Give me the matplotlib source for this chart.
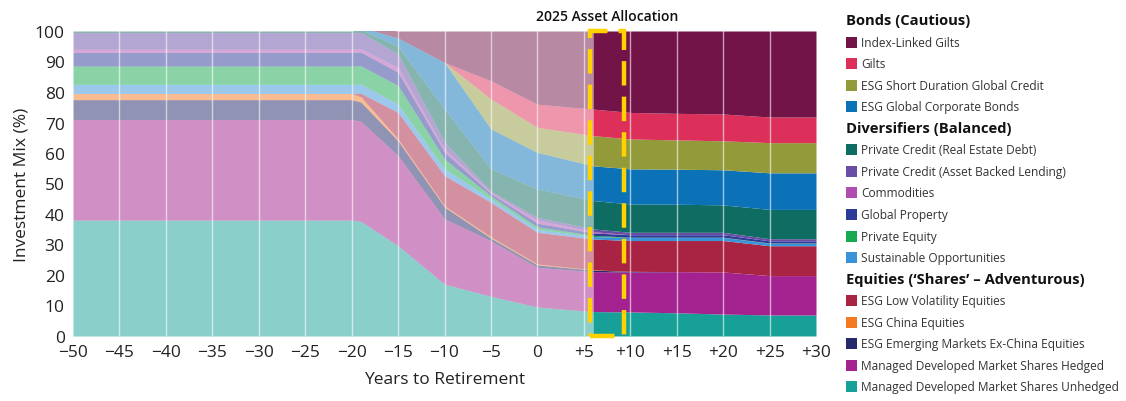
import matplotlib
matplotlib.use("Agg")
import matplotlib.pyplot as plt
from matplotlib.patches import Rectangle
import numpy as np

plt.rcParams['font.family'] = ['Open Sans', 'DejaVu Sans']

years = [-50, -20, -19, -15, -10, -5, 0, 6, 10, 15, 20, 25, 30]

unhedged     = [38, 38, 37.6, 29.6, 17.0, 13.0, 9.5, 8.0, 7.9, 7.6, 7.2, 6.9, 6.9]
hedged       = [33, 33, 32.8, 29.5, 21.4, 18.2, 13.0, 13.1, 13.1, 13.5, 13.8, 12.9, 12.9]
em_ex_china  = [6.5, 6.5, 6.3, 4.9, 3.9, 0.9, 0.8, 0.5, 0.2, 0, 0, 0, 0]
china        = [2, 2, 1.7, 0.6, 0.4, 0.4, 0.3, 0.1, 0, 0, 0, 0, 0]
low_vol      = [0, 0, 1.2, 8.7, 9.9, 11.3, 10.4, 10.1, 10.1, 10.2, 10.3, 9.8, 9.8]
sustainable  = [3, 3, 3.0, 2.7, 2.2, 1.2, 1.0, 0.8, 1.0, 1.0, 1.0, 0.8, 0.8]
private_eq   = [6, 6, 6.0, 6.1, 3.2, 0.9, 0.8, 0.4, 0.1, 0.1, 0.1, 0.1, 0.1]
global_prop  = [4.5, 4.5, 4.5, 4.4, 2.3, 0.8, 1.2, 0.8, 0.8, 0.8, 0.8, 0.7, 0.7]
commodities  = [1, 1, 1.1, 1.5, 1.0, 0.4, 1.0, 0.4, 0, 0, 0, 0, 0]
pc_abl       = [5.5, 5.5, 5.3, 4.5, 2.3, 0.4, 0.9, 0.9, 0.8, 0.8, 0.8, 0.7, 0.7]
pc_red       = [0.5, 0.5, 0.9, 2.5, 10.8, 7.3, 9.3, 9.3, 9.3, 9.2, 9.0, 9.6, 9.6]
corp_bonds   = [0, 0, 0.8, 2.7, 15.3, 13.1, 12.0, 11.4, 11.5, 11.5, 11.5, 12.0, 12.0]
short_dur    = [0, 0, 0, 0, 0, 9.8, 8.2, 9.9, 9.8, 9.6, 9.5, 9.9, 9.9]
gilts        = [0, 0, 0, 0, 0, 6.0, 7.6, 8.7, 8.7, 8.7, 8.8, 8.4, 8.4]
il_gilts     = [0, 0, 0.3, 2.3, 10.3, 16.3, 24.0, 25.6, 26.7, 27.0, 27.2, 28.2, 28.2]

# bottom -> top
series = [
    ("Managed Developed Market Shares Unhedged", unhedged, "#17a097"),
    ("Managed Developed Market Shares Hedged", hedged, "#a3228f"),
    ("ESG Emerging Markets Ex-China Equities", em_ex_china, "#25286a"),
    ("ESG China Equities", china, "#f47a22"),
    ("ESG Low Volatility Equities", low_vol, "#a92342"),
    ("Sustainable Opportunities", sustainable, "#3a92d8"),
    ("Private Equity", private_eq, "#17a850"),
    ("Global Property", global_prop, "#2c3a98"),
    ("Commodities", commodities, "#b04db0"),
    ("Private Credit (Asset Backed Lending)", pc_abl, "#6a4ea6"),
    ("Private Credit (Real Estate Debt)", pc_red, "#0e6c63"),
    ("ESG Global Corporate Bonds", corp_bonds, "#0b72b8"),
    ("ESG Short Duration Global Credit", short_dur, "#939a3a"),
    ("Gilts", gilts, "#dc2f5a"),
    ("Index-Linked Gilts", il_gilts, "#731448"),
]

split_year = 6
box_left, box_right = 5.7, 9.3

fig = plt.figure(figsize=(11.26, 4.02), dpi=100)
ax = fig.add_axes([73/1126, 1-337/402, (816-73)/1126, 305/402])

x = np.array(years, dtype=float)
base = np.zeros_like(x)
past = x <= split_year
future = x >= split_year
for name, vals, col in series:
    v = np.array(vals, dtype=float)
    top = base + v
    ax.fill_between(x[past], base[past], top[past], color=col, alpha=0.5,
                    linewidth=0, zorder=1)
    ax.fill_between(x[future], base[future], top[future], color=col,
                    linewidth=0, zorder=1)
    base = top

xticks = list(range(-50, 31, 5))
ax.set_xticks(xticks)
ax.set_xticklabels([("+%d" % t) if t > 0 else ("\u2212%d" % -t if t < 0 else "0") for t in xticks])
ax.set_yticks(range(0, 101, 10))
for t in xticks[1:-1]:
    ax.axvline(t, color="white", lw=1.0, alpha=0.6, zorder=2)

ax.set_xlim(-50, 30)
ax.set_ylim(0, 100)
for s in ax.spines.values():
    s.set_visible(False)
ax.tick_params(length=0, labelsize=12.5, colors="#222222", pad=6)
ax.set_xlabel("Years to Retirement", fontsize=12.5, color="#222222", labelpad=8)
ax.set_ylabel("Investment Mix (%)", fontsize=12.5, color="#222222", labelpad=4)

ax.add_patch(Rectangle((box_left, 0), box_right - box_left, 100, fill=False,
                       edgecolor="#ffd200", lw=3.2, linestyle=(0, (5.5, 2.5)),
                       zorder=5, clip_on=False))
ax.text((box_left + box_right) / 2, 102.5, "2025 Asset Allocation", ha="center",
        va="bottom", fontsize=10, fontweight="semibold", color="#111111")

# legend
groups = [
    ("Bonds (Cautious)", ["Index-Linked Gilts", "Gilts", "ESG Short Duration Global Credit",
                          "ESG Global Corporate Bonds"]),
    ("Diversifiers (Balanced)", ["Private Credit (Real Estate Debt)",
                                 "Private Credit (Asset Backed Lending)", "Commodities",
                                 "Global Property", "Private Equity",
                                 "Sustainable Opportunities"]),
    ("Equities (\u2018Shares\u2019 \u2013 Adventurous)", ["ESG Low Volatility Equities",
                                    "ESG China Equities",
                                    "ESG Emerging Markets Ex-China Equities",
                                    "Managed Developed Market Shares Hedged",
                                    "Managed Developed Market Shares Unhedged"]),
]
colmap = {n: c for n, _, c in series}
W, H = 1126, 402
ypx = 21.5
step = 21.55
for header, items in groups:
    fig.text(846 / W, 1 - ypx / H, header, fontsize=10.6, fontweight="bold",
             va="center", ha="left", color="#111111")
    ypx += step
    for it in items:
        fig.patches.append(Rectangle((846 / W, 1 - (ypx + 5.5) / H), 11 / W, 11 / H,
                                     transform=fig.transFigure, facecolor=colmap[it],
                                     edgecolor="none"))
        fig.text(861 / W, 1 - ypx / H, it, fontsize=8.6, va="center", ha="left",
                 color="#333333")
        ypx += step

fig.savefig("out.png", dpi=100)
